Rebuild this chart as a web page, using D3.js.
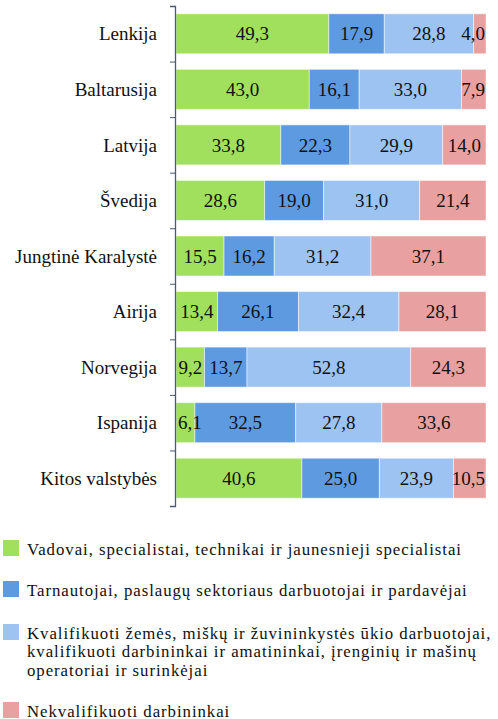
<!DOCTYPE html>
<html><head><meta charset="utf-8">
<script src="https://cdn.jsdelivr.net/npm/d3@7"></script>
<style>body{margin:0;background:#fff}svg{display:block}</style>
</head><body>
<script>
const categories = ["Lenkija","Baltarusija","Latvija","Švedija","Jungtinė Karalystė","Airija","Norvegija","Ispanija","Kitos valstybės"];
const vadovai    = [49.3,43.0,33.8,28.6,15.5,13.4,9.2,6.1,40.6];
const tarnautojai= [17.9,16.1,22.3,19.0,16.2,26.1,13.7,32.5,25.0];
const kvalifikuoti=[28.8,33.0,29.9,31.0,31.2,32.4,52.8,27.8,23.9];
const nekvalif   = [4.0,7.9,14.0,21.4,37.1,28.1,24.3,33.6,10.5];
const seriesNames = [
  ["Vadovai, specialistai, technikai ir jaunesnieji specialistai"],
  ["Tarnautojai, paslaugų sektoriaus darbuotojai ir pardavėjai"],
  ["Kvalifikuoti žemės, miškų ir žuvininkystės ūkio darbuotojai,","kvalifikuoti darbininkai ir amatininkai, įrenginių ir mašinų","operatoriai ir surinkėjai"],
  ["Nekvalifikuoti darbininkai"]
];
const colors = ["#a0e05c","#5e9ae0","#9cc3f2","#e8a1a0"];

const W=498,H=719;
const font="'Liberation Serif', serif";
const svg=d3.select("body").append("svg").attr("width",W).attr("height",H);

const seriesVals=[vadovai,tarnautojai,kvalifikuoti,nekvalif];
const rows=categories.map((c,i)=>{const o={cat:c};seriesVals.forEach((s,k)=>o["s"+k]=s[i]);return o;});
const keys=["s0","s1","s2","s3"];
const stack=d3.stack().keys(keys)(rows);

const x=d3.scaleLinear().domain([0,100]).range([176,486]);
const y=d3.scaleBand().domain(categories).range([6,506]).paddingInner(0.28).paddingOuter(0.14);
const yi=d3.scaleLinear().domain([0,categories.length]).range([6,506]);

// bars
const barG=svg.append("g"), lblG=svg.append("g");
stack.forEach((layer,k)=>{
  barG.append("g").selectAll("rect").data(layer).enter().append("rect")
    .attr("x",d=>x(d[0])).attr("width",d=>x(d[1])-x(d[0]))
    .attr("y",d=>y(d.data.cat)).attr("height",y.bandwidth())
    .attr("fill",colors[k]).attr("stroke","#ffffff").attr("stroke-opacity",0.5).attr("stroke-width",1);
  lblG.append("g").selectAll("text").data(layer).enter().append("text")
    .attr("x",d=>(x(d[0])+x(d[1]))/2).attr("y",d=>y(d.data.cat)+y.bandwidth()/2)
    .attr("dy","0.35em").attr("text-anchor","middle")
    .attr("font-family",font).attr("font-size",19).attr("fill","#111")
    .text(d=>d3.format(".1f")(d[1]-d[0]).replace(".",","))
    .each(function(){
      const t=d3.select(this), w=this.getComputedTextLength(), cx=+t.attr("x");
      const lo=x.range()[0]+w/2+2, hi=x.range()[1]-w/2-1;
      t.attr("x",Math.max(lo,Math.min(hi,cx)));
    });
});

// axis
const ax=svg.append("g").attr("transform","translate(175,0)")
  .call(d3.axisLeft(yi).ticks(categories.length).tickSize(5).tickFormat(""));
ax.select(".domain").attr("stroke","#4a5a72").attr("stroke-width",1.3);
ax.selectAll(".tick line").attr("stroke","#4a5a72");

// category labels
svg.append("g").selectAll("text").data(categories).enter().append("text")
  .attr("x",157).attr("y",d=>y(d)+y.bandwidth()/2).attr("dy","0.35em")
  .attr("text-anchor","end").attr("font-family",font).attr("font-size",19).attr("fill","#111")
  .text(d=>d);

// legend
const legTops=[540,581,624,702];
const lg=svg.append("g");
seriesNames.forEach((lines,k)=>{
  lg.append("rect").attr("x",3).attr("y",legTops[k]).attr("width",16).attr("height",16).attr("fill",colors[k]);
  lines.forEach((l,j)=>lg.append("text").attr("x",27).attr("y",legTops[k]+14.5+j*18.7)
    .attr("font-family",font).attr("font-size",16.8).attr("letter-spacing",0.95)
    .attr("fill","#111").text(l));
});
</script>
</body></html>
